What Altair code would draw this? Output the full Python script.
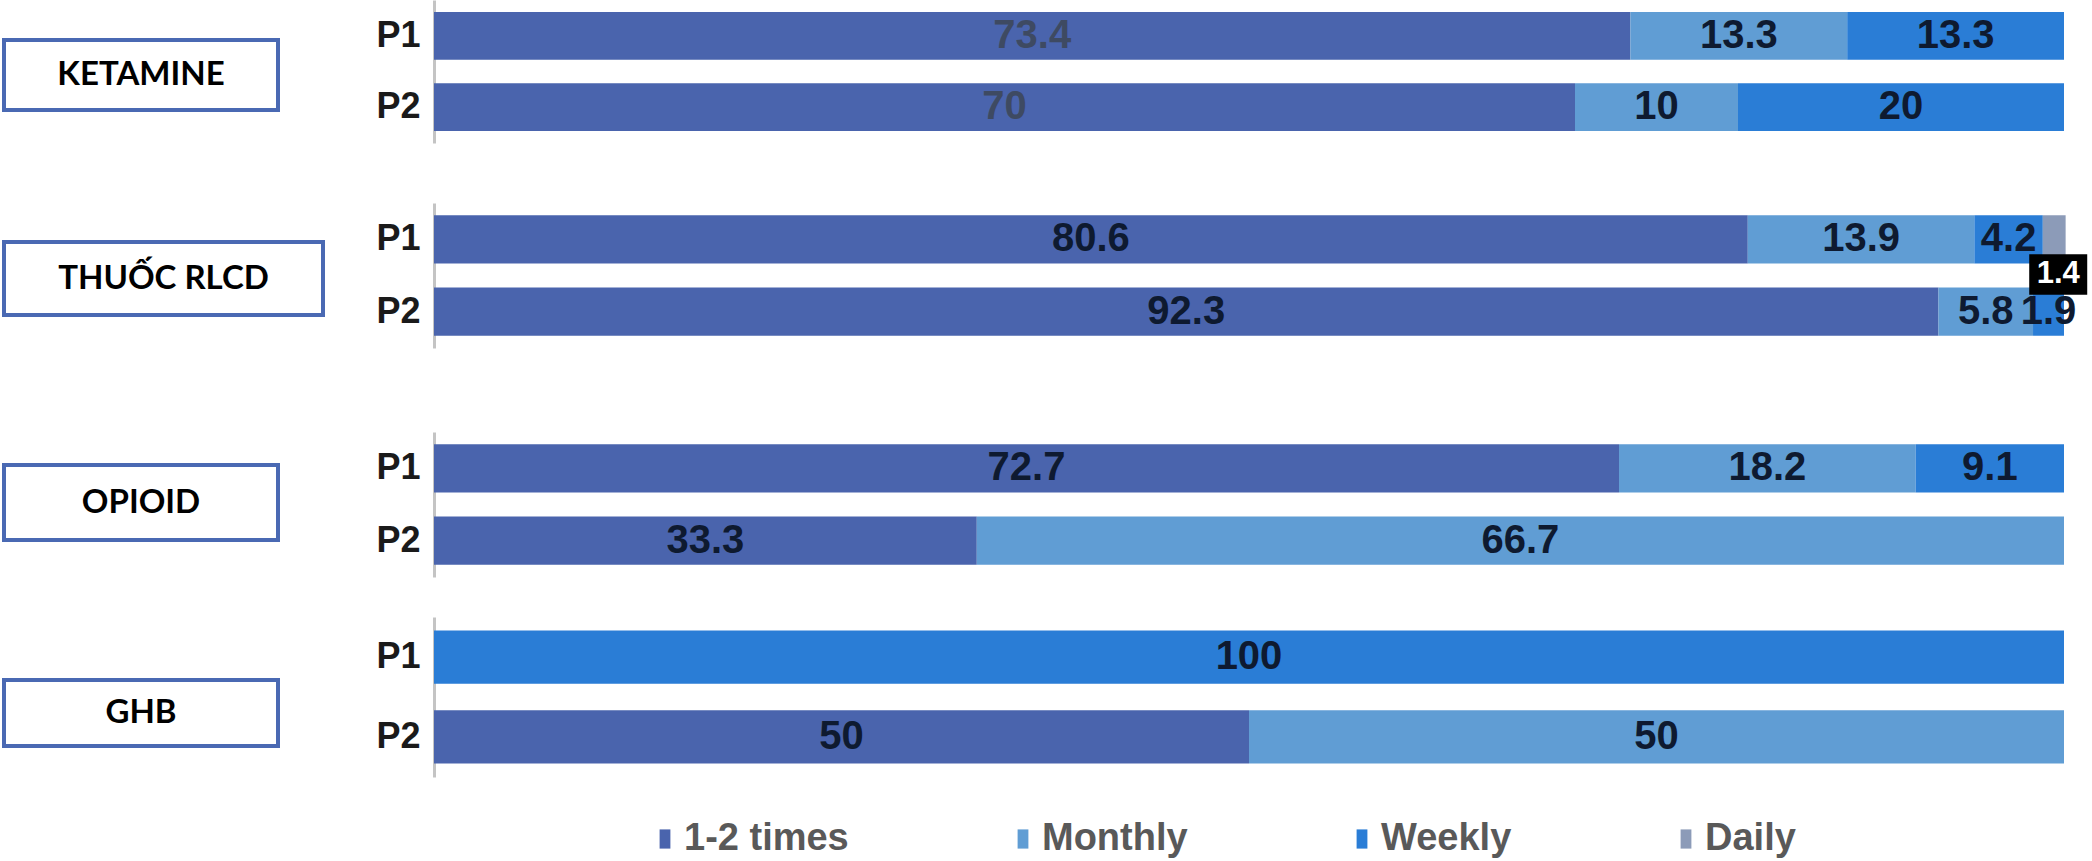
import altair as alt
import pandas as pd

# Drug groups, survey periods and use-frequency classes
drugs = ["KETAMINE", "THUỐC RLCD", "OPIOID", "GHB"]
periods = ["P1", "P2"]
freqs = ["1-2 times", "Monthly", "Weekly", "Daily"]
freq_colors = ["#4a64ad", "#609dd4", "#2a7dd6", "#8c9bb8"]

# Share of users (%) in each frequency class, ordered drug by drug, P1 then P2
times_1_2 = [73.4, 70, 80.6, 92.3, 72.7, 33.3, 0, 50]
monthly = [13.3, 10, 13.9, 5.8, 18.2, 66.7, 0, 50]
weekly = [13.3, 20, 4.2, 1.9, 9.1, 0, 100, 0]
daily = [0, 0, 1.4, 0, 0, 0, 0, 0]

rows = []
for series, freq in zip([times_1_2, monthly, weekly, daily], freqs):
    for k, v in enumerate(series):
        if v > 0:
            rows.append({"drug": drugs[k // 2], "period": periods[k % 2],
                         "freq": freq, "share": v})
df = pd.DataFrame(rows)

# Panel geometry (pixels)
PLOT_W = 1630
panel_heights = [143, 145, 145, 160]
gaps = [60, 84, 40]
# label box: top, bottom, right edge (left edge is shared)
BOX_LEFT = -430
boxes = [(40, 110, -156), (39, 112, -111), (33, 108, -156), (63, 129, -156)]

LABEL_FONT = "Liberation Sans"

x_scale = alt.Scale(domain=[0, 100], nice=False, zero=True)
legend = alt.Legend(
    orient="none", legendX=212, legendY=820, direction="horizontal", columns=4,
    title=None, symbolType="M-1.35,-2.4H1.35V2.4H-1.35Z", symbolSize=64,
    symbolStrokeWidth=0, symbolOpacity=1, labelFont=LABEL_FONT, labelFontSize=38,
    labelFontWeight="bold", labelColor="#595959", labelLimit=0, columnPadding=155,
    labelOffset=0, padding=0,
)


def panel(i, drug):
    h = panel_heights[i]
    y_scale = alt.Scale(domain=periods, paddingInner=0.33, paddingOuter=0.17)
    y_axis = alt.Axis(title=None, ticks=False, domainColor="#c4c4c4", domainWidth=3,
                      labelFont=LABEL_FONT, labelFontSize=36, labelFontWeight="bold",
                      labelColor="#1a1a1a", labelPadding=14, grid=False)

    base = (
        alt.Chart(df[df.drug == drug])
        .transform_calculate(rank="indexof(" + str(freqs) + ", datum.freq)")
        .transform_stack(stack="share", groupby=["period"], as_=["x0", "x1"],
                         sort=[alt.SortField("rank", order="ascending")])
        .transform_calculate(mid="(datum.x0 + datum.x1) / 2")
    )

    bars = base.mark_bar().encode(
        x=alt.X("x0:Q", scale=x_scale, axis=None),
        x2="x1:Q",
        y=alt.Y("period:N", scale=y_scale, axis=y_axis),
        color=alt.Color("freq:N", scale=alt.Scale(domain=freqs, range=freq_colors),
                        legend=legend),
    )

    values = base.transform_filter("datum.freq != 'Daily'").mark_text(
        font=LABEL_FONT, fontSize=40, fontWeight="bold"
    ).encode(
        x=alt.X("mid:Q", scale=x_scale),
        y=alt.Y("period:N", scale=y_scale),
        text=alt.Text("share:Q"),
        color=alt.condition(
            "datum.drug == 'KETAMINE' && datum.freq == '1-2 times'",
            alt.value("#3e4a62"), alt.value("#0e1a30"),
        ),
    )

    # small black callout for the thin daily segment
    daily_rows = base.transform_filter("datum.freq == 'Daily'")
    callout_bg = daily_rows.mark_point(
        shape="M-1,-0.7H1V0.7H-1Z", size=3364, filled=True, color="#000000",
        opacity=1, yOffset=35, xOffset=4,
    ).encode(x=alt.X("mid:Q", scale=x_scale), y=alt.Y("period:N", scale=y_scale))
    callout_txt = daily_rows.mark_text(
        font=LABEL_FONT, fontSize=31, fontWeight="bold", color="#ffffff",
        yOffset=35, dx=4,
    ).encode(x=alt.X("mid:Q", scale=x_scale), y=alt.Y("period:N", scale=y_scale),
             text=alt.Text("share:Q"))

    top, bottom, right = boxes[i]
    name = alt.Chart(pd.DataFrame({"label": [drug]}))
    frame = name.mark_rect(fill="#ffffff", stroke="#4a69b3", strokeWidth=4).encode(
        x=alt.value(BOX_LEFT), x2=alt.value(right),
        y=alt.value(top), y2=alt.value(bottom),
    )
    caption = name.mark_text(font="Lato", fontSize=33, fontWeight="bold",
                             color="#000000").encode(
        x=alt.value((BOX_LEFT + right) / 2), y=alt.value((top + bottom) / 2),
        text="label:N",
    )

    return alt.layer(frame, caption, bars, values, callout_bg, callout_txt).properties(
        width=PLOT_W, height=h
    )


def spacer(h):
    return alt.Chart(pd.DataFrame({"s": [0]})).mark_text().encode(
        text=alt.value("")
    ).properties(width=PLOT_W, height=h)


parts = []
for i, drug in enumerate(drugs):
    parts.append(panel(i, drug))
    if i < len(gaps):
        parts.append(spacer(gaps[i]))

chart = (
    alt.vconcat(*parts, spacing=0)
    .resolve_scale(y="independent")
    .properties(padding={"left": 2, "top": 0, "right": 0, "bottom": 0})
    .configure_view(stroke=None)
)

chart.save("out.html", embed_options={"renderer": "svg", "actions": False})
